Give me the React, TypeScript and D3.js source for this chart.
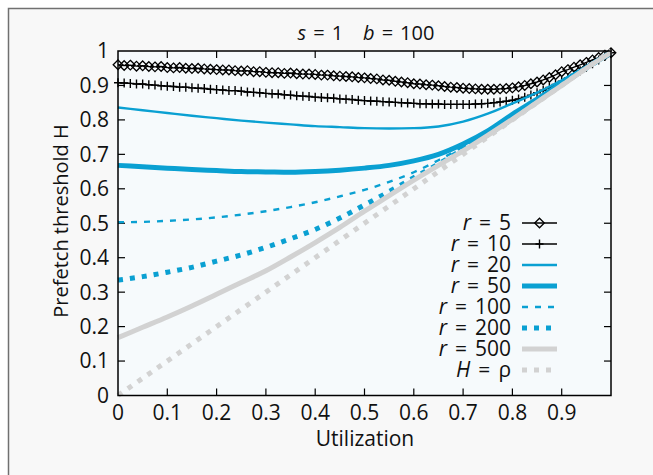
import React from 'react';
import * as d3 from 'd3';

// utilization grid for the simulated (marker) series
const utilFine = [
  0, 0.0125, 0.025, 0.0375, 0.05, 0.0625, 0.075, 0.0875,
  0.1, 0.1125, 0.125, 0.1375, 0.15, 0.1625, 0.175, 0.1875,
  0.2, 0.2125, 0.225, 0.2375, 0.25, 0.2625, 0.275, 0.2875,
  0.3, 0.3125, 0.325, 0.3375, 0.35, 0.3625, 0.375, 0.3875,
  0.4, 0.4125, 0.425, 0.4375, 0.45, 0.4625, 0.475, 0.4875,
  0.5, 0.5125, 0.525, 0.5375, 0.55, 0.5625, 0.575, 0.5875,
  0.6, 0.6125, 0.625, 0.6375, 0.65, 0.6625, 0.675, 0.6875,
  0.7, 0.7125, 0.725, 0.7375, 0.75, 0.7625, 0.775, 0.7875,
  0.8, 0.8125, 0.825, 0.8375, 0.85, 0.8625, 0.875, 0.8875,
  0.9, 0.9125, 0.925, 0.9375, 0.95, 0.9625, 0.975, 0.9875,
  1,
];

const r5 = [
  0.960, 0.958, 0.959, 0.956, 0.957, 0.955, 0.954, 0.955,
  0.952, 0.951, 0.952, 0.950, 0.949, 0.950, 0.948, 0.947,
  0.946, 0.945, 0.945, 0.943, 0.942, 0.943, 0.940, 0.940,
  0.938, 0.937, 0.937, 0.935, 0.936, 0.934, 0.933, 0.933,
  0.932, 0.930, 0.930, 0.928, 0.927, 0.926, 0.925, 0.923,
  0.922, 0.920, 0.919, 0.916, 0.915, 0.912, 0.910, 0.908,
  0.905, 0.904, 0.902, 0.901, 0.899, 0.897, 0.895, 0.894,
  0.892, 0.891, 0.890, 0.889, 0.889, 0.889, 0.890, 0.891,
  0.893, 0.896, 0.900, 0.905, 0.910, 0.916, 0.923, 0.931,
  0.940, 0.946, 0.953, 0.960, 0.967, 0.974, 0.981, 0.988,
  0.995,
];

const r10 = [
  0.908, 0.907, 0.906, 0.904, 0.904, 0.902, 0.901, 0.899,
  0.898, 0.897, 0.895, 0.895, 0.893, 0.892, 0.891, 0.889,
  0.888, 0.887, 0.885, 0.885, 0.883, 0.881, 0.880, 0.879,
  0.877, 0.876, 0.875, 0.873, 0.872, 0.870, 0.869, 0.868,
  0.866, 0.865, 0.864, 0.863, 0.861, 0.860, 0.859, 0.857,
  0.856, 0.855, 0.854, 0.853, 0.852, 0.851, 0.850, 0.849,
  0.848, 0.847, 0.847, 0.846, 0.846, 0.845, 0.845, 0.845,
  0.845, 0.845, 0.846, 0.847, 0.848, 0.850, 0.852, 0.854,
  0.857, 0.861, 0.866, 0.872, 0.879, 0.886, 0.894, 0.903,
  0.912, 0.922, 0.932, 0.943, 0.953, 0.963, 0.974, 0.984,
  0.995,
];

// utilization grid for the analytic curves
const utilCoarse = [0, 0.05, 0.1, 0.15, 0.2, 0.25, 0.3, 0.35, 0.4, 0.45, 0.5,
  0.55, 0.6, 0.65, 0.7, 0.75, 0.8, 0.85, 0.9, 0.95, 1];

const r20 = [0.836, 0.828, 0.820, 0.812, 0.805, 0.798, 0.792, 0.787, 0.782, 0.779, 0.776,
  0.775, 0.776, 0.781, 0.795, 0.818, 0.848, 0.879, 0.915, 0.955, 0.995];
const r50 = [0.668, 0.664, 0.660, 0.656, 0.653, 0.650, 0.649, 0.648, 0.650, 0.654, 0.660,
  0.668, 0.681, 0.700, 0.730, 0.768, 0.816, 0.860, 0.906, 0.952, 0.995];
const r100 = [0.503, 0.504, 0.507, 0.511, 0.517, 0.525, 0.535, 0.547, 0.561, 0.578, 0.597,
  0.620, 0.648, 0.683, 0.722, 0.762, 0.810, 0.856, 0.904, 0.951, 0.995];
const r200 = [0.335, 0.345, 0.358, 0.372, 0.390, 0.408, 0.430, 0.455, 0.482, 0.515, 0.553,
  0.592, 0.632, 0.672, 0.715, 0.757, 0.803, 0.853, 0.902, 0.950, 0.995];
const r500 = [0.168, 0.198, 0.228, 0.260, 0.294, 0.328, 0.362, 0.402, 0.444, 0.488, 0.535,
  0.580, 0.625, 0.668, 0.710, 0.755, 0.802, 0.851, 0.900, 0.950, 0.995];

const diagUtil = [0, 1];
const diagH = [0, 1];

const yTicks = [0, 0.1, 0.2, 0.3, 0.4, 0.5, 0.6, 0.7, 0.8, 0.9, 1];
const xTicks = [0, 0.1, 0.2, 0.3, 0.4, 0.5, 0.6, 0.7, 0.8, 0.9];

const BLUE = '#0aa0d2';
const GRAY = '#d2d2d2';
const FONT = '"Open Sans", sans-serif';

const series = [
  {label: '5', italic: 'r', xs: utilFine, ys: r5, color: '#000', width: 1.4, dash: null, marker: 'diamond'},
  {label: '10', italic: 'r', xs: utilFine, ys: r10, color: '#000', width: 1.4, dash: null, marker: 'plus'},
  {label: '20', italic: 'r', xs: utilCoarse, ys: r20, color: BLUE, width: 2.4, dash: null, marker: null},
  {label: '50', italic: 'r', xs: utilCoarse, ys: r50, color: BLUE, width: 5, dash: null, marker: null},
  {label: '100', italic: 'r', xs: utilCoarse, ys: r100, color: BLUE, width: 2.4, dash: '6,7', marker: null},
  {label: '200', italic: 'r', xs: utilCoarse, ys: r200, color: BLUE, width: 5, dash: '5,7', marker: null},
  {label: '500', italic: 'r', xs: utilCoarse, ys: r500, color: GRAY, width: 5, dash: null, marker: null},
  {label: 'ρ', italic: 'H', xs: diagUtil, ys: diagH, color: GRAY, width: 5, dash: '5,7', marker: null},
];

const DIAMOND = 'M0,-4.8L4.8,0L0,4.8L-4.8,0Z';
const PLUS = 'M-4,0H4M0,-4.5V4.5';

const Marker = ({type, cx, cy}: {type: string | null; cx: number; cy: number}) => {
  if (type === 'diamond') {
    return <path d={DIAMOND} transform={`translate(${cx},${cy})`} fill="none" stroke="#000" strokeWidth={1.3} />;
  }
  if (type === 'plus') {
    return <path d={PLUS} transform={`translate(${cx},${cy})`} fill="none" stroke="#000" strokeWidth={1.4} />;
  }
  return null;
};

export default function App() {
  const left = 118, right = 611, top = 51, bottom = 395.5;
  const x = d3.scaleLinear().domain([0, 1]).range([left, right]);
  const y = d3.scaleLinear().domain([0, 1]).range([bottom, top]);
  const fmt = d3.format('~g');

  const lineFor = (s: typeof series[number]) => {
    const gen = d3.line<number>()
      .x((_, i) => x(s.xs[i]))
      .y(d => y(d))
      .curve(s.marker ? d3.curveLinear : d3.curveMonotoneX);
    return gen(s.ys) || '';
  };

  const legendX = 511;
  const legendY0 = 223;
  const legendStep = 21;

  return (
    <svg width={653} height={475} style={{position: 'absolute', left: 0, top: 0}} fontFamily={FONT}>
      <rect x={8.5} y={8.5} width={700} height={500} fill="#f8f8f8" stroke="#707070" strokeWidth={1.5} />
      <rect x={left} y={top} width={right - left} height={bottom - top} fill="#f6fafc" />

      <defs>
        <clipPath id="plotClip">
          <rect x={left - 6} y={top - 6} width={right - left + 12} height={bottom - top + 12} />
        </clipPath>
      </defs>

      {/* ticks, mirrored on all four sides */}
      <g stroke="#000" strokeWidth={1.2}>
        {yTicks.slice(1, -1).map(t => (
          <g key={'y' + t}>
            <line x1={left} x2={left + 7} y1={y(t)} y2={y(t)} />
            <line x1={right} x2={right - 7} y1={y(t)} y2={y(t)} />
          </g>
        ))}
        {xTicks.slice(1).map(t => (
          <g key={'x' + t}>
            <line x1={x(t)} x2={x(t)} y1={bottom} y2={bottom - 7} />
            <line x1={x(t)} x2={x(t)} y1={top} y2={top + 7} />
          </g>
        ))}
      </g>

      <g clipPath="url(#plotClip)">
        {series.map(s => (
          <g key={s.label}>
            <path d={lineFor(s)} fill="none" stroke={s.color} strokeWidth={s.width}
              strokeDasharray={s.dash || undefined} />
            {s.marker && s.ys.map((v, i) => (
              <Marker key={i} type={s.marker} cx={x(s.xs[i])} cy={y(v)} />
            ))}
          </g>
        ))}
      </g>

      <rect x={left} y={top} width={right - left} height={bottom - top} fill="none" stroke="#000" strokeWidth={1.5} />

      {/* tick labels */}
      <g fontSize={21} fill="#111">
        {yTicks.map(t => (
          <text key={'yl' + t} x={left - 9} y={y(t)} dy="0.35em" textAnchor="end">{fmt(t)}</text>
        ))}
        {xTicks.map(t => (
          <text key={'xl' + t} x={x(t)} y={bottom + 24} textAnchor="middle">{fmt(t)}</text>
        ))}
      </g>

      <text x={366} y={40} textAnchor="middle" fontSize={20} fill="#111">
        <tspan fontStyle="italic">s</tspan>
        <tspan dx={7}>=</tspan>
        <tspan dx={7}>1</tspan>
        <tspan fontStyle="italic" dx={20}>b</tspan>
        <tspan dx={7}>=</tspan>
        <tspan dx={7}>100</tspan>
      </text>
      <text x={365} y={446} textAnchor="middle" fontSize={21} fill="#111">Utilization</text>
      <text transform="translate(68,221) rotate(-90)" textAnchor="middle" fontSize={20} fill="#111">
        Prefetch threshold H
      </text>

      {/* legend */}
      <g fontSize={21} fill="#111">
        {series.map((s, i) => {
          const ly = legendY0 + i * legendStep;
          return (
            <g key={'lg' + s.label}>
              <text x={legendX} y={ly} dy="0.35em" textAnchor="end">
                <tspan fontStyle="italic">{s.italic}</tspan>
                <tspan dx={8}>=</tspan>
                <tspan dx={8}>{s.label}</tspan>
              </text>
              <line x1={522} x2={557} y1={ly} y2={ly} stroke={s.color} strokeWidth={s.width}
                strokeDasharray={s.dash || undefined} />
              <Marker type={s.marker} cx={539.5} cy={ly} />
            </g>
          );
        })}
      </g>
    </svg>
  );
}
